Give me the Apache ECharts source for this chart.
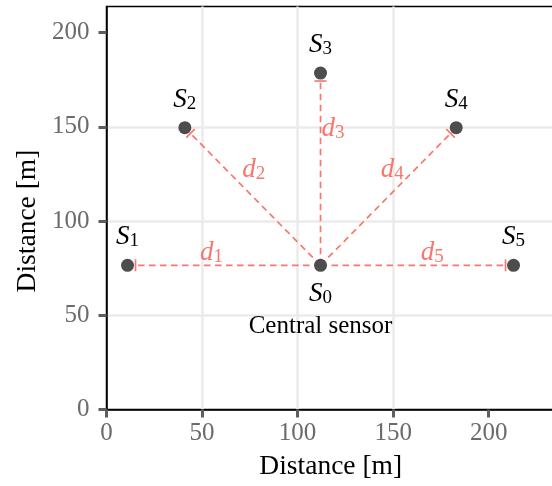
<!DOCTYPE html>
<html>
<head>
<meta charset="utf-8">
<script src="https://cdn.jsdelivr.net/npm/echarts@6/dist/echarts.min.js"></script>
<style>
  html, body { margin: 0; padding: 0; background: #ffffff; }
  #chart { width: 552px; height: 486px; }
</style>
</head>
<body>
<div id="chart"></div>
<script>
// Sensor layout: index 0 is the central sensor, 1..5 surround it
const sensorIds = ['0', '1', '2', '3', '4', '5'];
const sensorX = [112, 11, 41, 112, 183, 213];
const sensorY = [76.5, 76.5, 149.5, 178.5, 149.5, 76.5];

// Distance annotations d1..d5 (anchor points in metres)
const distIds = ['1', '2', '3', '4', '5'];
const distLabelX = [55, 77, 118.5, 149.5, 170.5];
const distLabelY = [83, 127, 149, 127, 83];

// Axis ticks
const xTicks = [0, 50, 100, 150, 200];
const yTicks = [0, 50, 100, 150, 200];

const SERIF = "'Liberation Serif', 'Times New Roman', 'DejaVu Serif', serif";
const RED = '#F8766D';
const DOT = '#4D4D4D';
const TICK_GREY = '#6B6B6B';

const chart = echarts.init(document.getElementById('chart'), null, { renderer: 'canvas' });

// Segments from the central sensor to every outer sensor
const segmentData = [];
for (let i = 1; i < sensorX.length; i++) {
  segmentData.push([sensorX[0], sensorY[0], sensorX[i], sensorY[i]]);
}

const sensorData = sensorIds.map((id, i) => {
  const item = { value: [sensorX[i], sensorY[i]], name: id };
  if (i === 0) {
    item.label = {
      position: 'bottom',
      distance: 9,
      formatter: '{s|S}{n|' + id + '}\n{c|Central sensor}'
    };
  }
  return item;
});

const distData = distIds.map((id, i) => ({ value: [distLabelX[i], distLabelY[i]], name: id }));

const option = {
  animation: false,
  backgroundColor: '#ffffff',
  grid: {
    left: 106.5,
    top: 6.5,
    right: -3,
    bottom: 76.5,
    show: true,
    borderColor: '#000000',
    borderWidth: 1.5,
    backgroundColor: 'transparent',
    outerBoundsMode: 'none',
    containLabel: false
  },
  xAxis: {
    type: 'value',
    min: 0,
    max: 234.7,
    interval: 50,
    name: 'Distance [m]',
    nameLocation: 'middle',
    nameGap: 43,
    nameTextStyle: { fontFamily: SERIF, fontSize: 27.5, color: '#000000' },
    axisLine: { show: true, onZero: false, lineStyle: { color: '#000000', width: 1.5 } },
    axisTick: { show: true, length: 8, customValues: xTicks, lineStyle: { color: '#5E5E5E', width: 3 } },
    axisLabel: {
      customValues: xTicks,
      margin: 11, fontFamily: SERIF, fontSize: 25, color: TICK_GREY
    },
    splitLine: { show: true, showMinLine: false, showMaxLine: false, lineStyle: { color: '#EBEBEB', width: 2.5 } }
  },
  yAxis: {
    type: 'value',
    min: 0,
    max: 213.8,
    interval: 50,
    axisLine: { show: true, onZero: false, lineStyle: { color: '#000000', width: 1.5 } },
    axisTick: { show: true, length: 8, customValues: yTicks, lineStyle: { color: '#5E5E5E', width: 3 } },
    axisLabel: {
      customValues: yTicks,
      margin: 17, fontFamily: SERIF, fontSize: 25, color: TICK_GREY
    },
    splitLine: { show: true, showMinLine: false, showMaxLine: false, lineStyle: { color: '#EBEBEB', width: 2.5 } }
  },
  graphic: [{
    type: 'text',
    x: 28,
    y: 221,
    rotation: Math.PI / 2,
    style: {
      text: 'Distance [m]',
      fontFamily: SERIF,
      fontSize: 27.5,
      fill: '#000000',
      align: 'center',
      verticalAlign: 'middle'
    }
  }],
  series: [
    {
      type: 'custom',
      name: 'distances',
      coordinateSystem: 'cartesian2d',
      z: 2,
      data: segmentData,
      renderItem: function (params, api) {
        const p0 = api.coord([api.value(0), api.value(1)]);
        const p1 = api.coord([api.value(2), api.value(3)]);
        const dx = p1[0] - p0[0];
        const dy = p1[1] - p0[1];
        const len = Math.sqrt(dx * dx + dy * dy);
        const ux = dx / len, uy = dy / len;
        const gap = 8;      // stop short of the outer sensor
        const half = 6;     // half length of the end bar
        const ex = p1[0] - ux * gap;
        const ey = p1[1] - uy * gap;
        return {
          type: 'group',
          children: [
            {
              type: 'line',
              shape: { x1: p0[0], y1: p0[1], x2: ex, y2: ey },
              style: { stroke: RED, lineWidth: 1.7, lineDash: [6.5, 4.5] }
            },
            {
              type: 'line',
              shape: { x1: ex - uy * half, y1: ey + ux * half, x2: ex + uy * half, y2: ey - ux * half },
              style: { stroke: RED, lineWidth: 1.7 }
            }
          ]
        };
      }
    },
    {
      type: 'scatter',
      name: 'sensors',
      z: 3,
      symbol: 'circle',
      symbolSize: 13,
      itemStyle: { color: DOT, opacity: 1 },
      data: sensorData,
      label: {
        show: true,
        position: 'top',
        distance: 8,
        color: '#000000',
        opacity: 1,
        formatter: function (p) { return '{s|S}{n|' + p.name + '}'; },
        rich: {
          s: { fontFamily: SERIF, fontStyle: 'italic', fontSize: 27, color: '#000000' },
          n: { fontFamily: SERIF, fontSize: 19, color: '#000000', verticalAlign: 'bottom' },
          c: { fontFamily: SERIF, fontSize: 25, color: '#000000', lineHeight: 38 }
        }
      }
    },
    {
      type: 'scatter',
      name: 'distance labels',
      z: 4,
      symbol: 'circle',
      symbolSize: 0,
      silent: true,
      itemStyle: { opacity: 1 },
      data: distData,
      label: {
        show: true,
        position: 'inside',
        opacity: 1,
        formatter: function (p) { return '{d|d}{n|' + p.name + '}'; },
        rich: {
          d: { fontFamily: SERIF, fontStyle: 'italic', fontSize: 27, color: RED },
          n: { fontFamily: SERIF, fontSize: 19, color: RED, verticalAlign: 'bottom' }
        }
      }
    }
  ]
};

chart.setOption(option);
</script>
</body>
</html>
